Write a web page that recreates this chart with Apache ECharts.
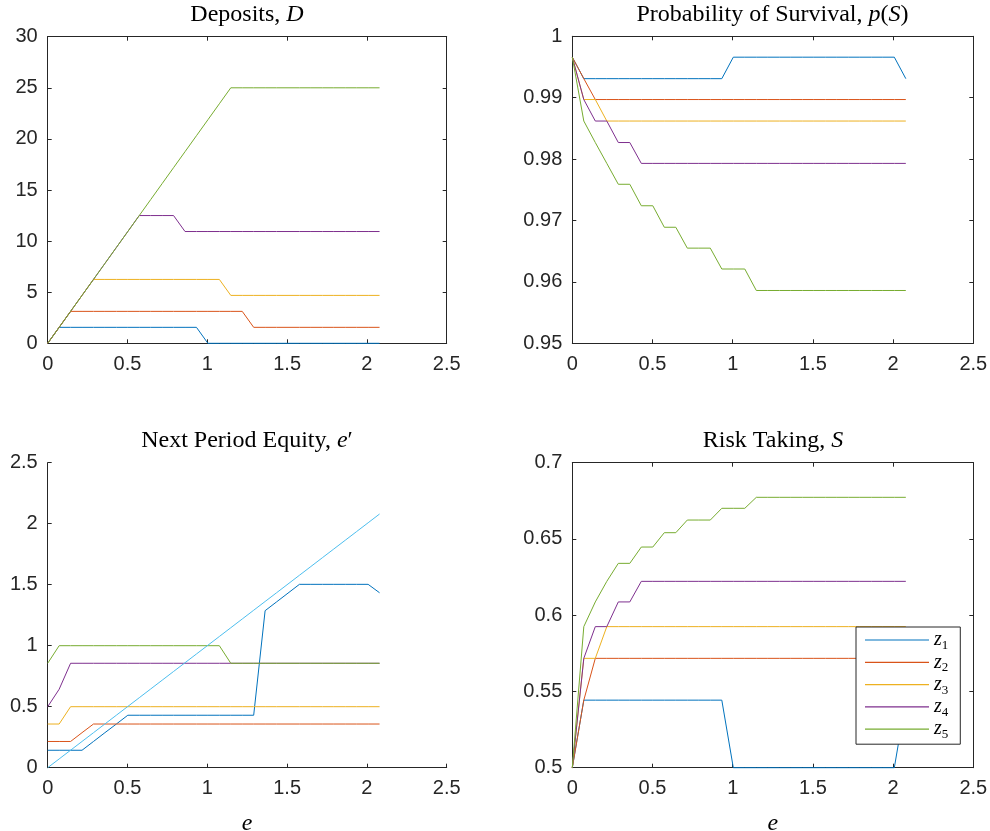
<!DOCTYPE html>
<html><head><meta charset="utf-8">
<script src="https://cdn.jsdelivr.net/npm/echarts@6/dist/echarts.min.js"></script>
<style>html,body{margin:0;padding:0;background:#fff}#c{width:990px;height:831px}</style>
</head><body><div id="c"></div><script>
// ---- data ----
const eGrid = [0, 0.0717, 0.1434, 0.2151, 0.2868, 0.3585, 0.4302, 0.5019, 0.5736, 0.6453,
  0.717, 0.7887, 0.8604, 0.9321, 1.0038, 1.0755, 1.1472, 1.2189, 1.2906, 1.3623,
  1.434, 1.5057, 1.5774, 1.6491, 1.7208, 1.7925, 1.8642, 1.9359, 2.0076, 2.0793];
const seriesNames = ['z1', 'z2', 'z3', 'z4', 'z5'];
const xTicks = [0, 0.5, 1, 1.5, 2, 2.5];

// Deposits, D
const depositTicks = [0, 5, 10, 15, 20, 25, 30];
const depZ1 = [0, 1.5625, 1.5625, 1.5625, 1.5625, 1.5625, 1.5625, 1.5625, 1.5625, 1.5625, 1.5625, 1.5625, 1.5625, 1.5625, 0, 0, 0, 0, 0, 0, 0, 0, 0, 0, 0, 0, 0, 0, 0, 0];
const depZ2 = [0, 1.5625, 3.125, 3.125, 3.125, 3.125, 3.125, 3.125, 3.125, 3.125, 3.125, 3.125, 3.125, 3.125, 3.125, 3.125, 3.125, 3.125, 1.5625, 1.5625, 1.5625, 1.5625, 1.5625, 1.5625, 1.5625, 1.5625, 1.5625, 1.5625, 1.5625, 1.5625];
const depZ3 = [0, 1.5625, 3.125, 4.6875, 6.25, 6.25, 6.25, 6.25, 6.25, 6.25, 6.25, 6.25, 6.25, 6.25, 6.25, 6.25, 4.6875, 4.6875, 4.6875, 4.6875, 4.6875, 4.6875, 4.6875, 4.6875, 4.6875, 4.6875, 4.6875, 4.6875, 4.6875, 4.6875];
const depZ4 = [0, 1.5625, 3.125, 4.6875, 6.25, 7.8125, 9.375, 10.9375, 12.5, 12.5, 12.5, 12.5, 10.9375, 10.9375, 10.9375, 10.9375, 10.9375, 10.9375, 10.9375, 10.9375, 10.9375, 10.9375, 10.9375, 10.9375, 10.9375, 10.9375, 10.9375, 10.9375, 10.9375, 10.9375];
const depZ5 = [0, 1.5625, 3.125, 4.6875, 6.25, 7.8125, 9.375, 10.9375, 12.5, 14.0625, 15.625, 17.1875, 18.75, 20.3125, 21.875, 23.4375, 25, 25, 25, 25, 25, 25, 25, 25, 25, 25, 25, 25, 25, 25];

// Probability of Survival, p(S)
const survTicks = [0.95, 0.96, 0.97, 0.98, 0.99, 1];
const survZ1 = [0.9966, 0.9931, 0.9931, 0.9931, 0.9931, 0.9931, 0.9931, 0.9931, 0.9931, 0.9931, 0.9931, 0.9931, 0.9931, 0.9931, 0.9966, 0.9966, 0.9966, 0.9966, 0.9966, 0.9966, 0.9966, 0.9966, 0.9966, 0.9966, 0.9966, 0.9966, 0.9966, 0.9966, 0.9966, 0.9931];
const survZ2 = [0.9966, 0.9931, 0.9897, 0.9897, 0.9897, 0.9897, 0.9897, 0.9897, 0.9897, 0.9897, 0.9897, 0.9897, 0.9897, 0.9897, 0.9897, 0.9897, 0.9897, 0.9897, 0.9897, 0.9897, 0.9897, 0.9897, 0.9897, 0.9897, 0.9897, 0.9897, 0.9897, 0.9897, 0.9897, 0.9897];
const survZ3 = [0.9966, 0.9897, 0.9897, 0.9862, 0.9862, 0.9862, 0.9862, 0.9862, 0.9862, 0.9862, 0.9862, 0.9862, 0.9862, 0.9862, 0.9862, 0.9862, 0.9862, 0.9862, 0.9862, 0.9862, 0.9862, 0.9862, 0.9862, 0.9862, 0.9862, 0.9862, 0.9862, 0.9862, 0.9862, 0.9862];
const survZ4 = [0.9966, 0.9897, 0.9862, 0.9862, 0.9827, 0.9827, 0.9793, 0.9793, 0.9793, 0.9793, 0.9793, 0.9793, 0.9793, 0.9793, 0.9793, 0.9793, 0.9793, 0.9793, 0.9793, 0.9793, 0.9793, 0.9793, 0.9793, 0.9793, 0.9793, 0.9793, 0.9793, 0.9793, 0.9793, 0.9793];
const survZ5 = [0.9966, 0.9862, 0.9827, 0.9793, 0.9759, 0.9759, 0.9724, 0.9724, 0.9689, 0.9689, 0.9655, 0.9655, 0.9655, 0.9621, 0.9621, 0.9621, 0.9586, 0.9586, 0.9586, 0.9586, 0.9586, 0.9586, 0.9586, 0.9586, 0.9586, 0.9586, 0.9586, 0.9586, 0.9586, 0.9586];

// Next Period Equity, e'
const equityTicks = [0, 0.5, 1, 1.5, 2, 2.5];
const eqZ1 = [0.143, 0.143, 0.143, 0.143, 0.215, 0.287, 0.358, 0.43, 0.43, 0.43, 0.43, 0.43, 0.43, 0.43, 0.43, 0.43, 0.43, 0.43, 0.43, 1.287, 1.359, 1.431, 1.503, 1.503, 1.503, 1.503, 1.503, 1.503, 1.503, 1.434];
const eqZ2 = [0.215, 0.215, 0.215, 0.287, 0.358, 0.358, 0.358, 0.358, 0.358, 0.358, 0.358, 0.358, 0.358, 0.358, 0.358, 0.358, 0.358, 0.358, 0.358, 0.358, 0.358, 0.358, 0.358, 0.358, 0.358, 0.358, 0.358, 0.358, 0.358, 0.358];
const eqZ3 = [0.358, 0.358, 0.5, 0.5, 0.5, 0.5, 0.5, 0.5, 0.5, 0.5, 0.5, 0.5, 0.5, 0.5, 0.5, 0.5, 0.5, 0.5, 0.5, 0.5, 0.5, 0.5, 0.5, 0.5, 0.5, 0.5, 0.5, 0.5, 0.5, 0.5];
const eqZ4 = [0.5, 0.643, 0.856, 0.856, 0.856, 0.856, 0.856, 0.856, 0.856, 0.856, 0.856, 0.856, 0.856, 0.856, 0.856, 0.856, 0.856, 0.856, 0.856, 0.856, 0.856, 0.856, 0.856, 0.856, 0.856, 0.856, 0.856, 0.856, 0.856, 0.856];
const eqZ5 = [0.856, 1, 1, 1, 1, 1, 1, 1, 1, 1, 1, 1, 1, 1, 1, 1, 0.856, 0.856, 0.856, 0.856, 0.856, 0.856, 0.856, 0.856, 0.856, 0.856, 0.856, 0.856, 0.856, 0.856];
const eq45 = [0, 0.0717, 0.1434, 0.2151, 0.2868, 0.3585, 0.4302, 0.5019, 0.5736, 0.6453,
  0.717, 0.7887, 0.8604, 0.9321, 1.0038, 1.0755, 1.1472, 1.2189, 1.2906, 1.3623,
  1.434, 1.5057, 1.5774, 1.6491, 1.7208, 1.7925, 1.8642, 1.9359, 2.0076, 2.0793];

// Risk Taking, S
const riskTicks = [0.5, 0.55, 0.6, 0.65, 0.7];
const riskZ1 = [0.5, 0.5443, 0.5443, 0.5443, 0.5443, 0.5443, 0.5443, 0.5443, 0.5443, 0.5443, 0.5443, 0.5443, 0.5443, 0.5443, 0.5, 0.5, 0.5, 0.5, 0.5, 0.5, 0.5, 0.5, 0.5, 0.5, 0.5, 0.5, 0.5, 0.5, 0.5, 0.5443];
const riskZ2 = [0.5, 0.5443, 0.5717, 0.5717, 0.5717, 0.5717, 0.5717, 0.5717, 0.5717, 0.5717, 0.5717, 0.5717, 0.5717, 0.5717, 0.5717, 0.5717, 0.5717, 0.5717, 0.5717, 0.5717, 0.5717, 0.5717, 0.5717, 0.5717, 0.5717, 0.5717, 0.5717, 0.5717, 0.5717, 0.5717];
const riskZ3 = [0.5, 0.5717, 0.5717, 0.5925, 0.5925, 0.5925, 0.5925, 0.5925, 0.5925, 0.5925, 0.5925, 0.5925, 0.5925, 0.5925, 0.5925, 0.5925, 0.5925, 0.5925, 0.5925, 0.5925, 0.5925, 0.5925, 0.5925, 0.5925, 0.5925, 0.5925, 0.5925, 0.5925, 0.5925, 0.5925];
const riskZ4 = [0.5, 0.5717, 0.5925, 0.5925, 0.6087, 0.6087, 0.6222, 0.6222, 0.6222, 0.6222, 0.6222, 0.6222, 0.6222, 0.6222, 0.6222, 0.6222, 0.6222, 0.6222, 0.6222, 0.6222, 0.6222, 0.6222, 0.6222, 0.6222, 0.6222, 0.6222, 0.6222, 0.6222, 0.6222, 0.6222];
const riskZ5 = [0.5, 0.5925, 0.6087, 0.6222, 0.634, 0.634, 0.6447, 0.6447, 0.6541, 0.6541, 0.6624, 0.6624, 0.6624, 0.6701, 0.6701, 0.6701, 0.6773, 0.6773, 0.6773, 0.6773, 0.6773, 0.6773, 0.6773, 0.6773, 0.6773, 0.6773, 0.6773, 0.6773, 0.6773, 0.6773];

// ---- styling / layout ----
const colors = ['#0072BD', '#D95319', '#EDB120', '#7E2F8E', '#77AC30'];
const lineColor45 = '#4DBEEE';
const axisColor = '#262626';
const serif = 'Liberation Serif';
const sans = 'Liberation Sans';
const richT = {
  n: { fontFamily: serif, fontSize: 24, color: '#000' },
  i: { fontFamily: serif, fontSize: 24, fontStyle: 'italic', color: '#000' }
};

const panels = [
  { title: '{n|Deposits, }{i|D}', tx: 247, ty: 14.5, grid: { left: 47.7, top: 36.7, width: 399, height: 306.6 }, yTicks: depositTicks, ys: [depZ1, depZ2, depZ3, depZ4, depZ5], box: true },
  { title: '{n|Probability of Survival, }{i|p}{n|(}{i|S}{n|)}', tx: 772.5, ty: 14.5, grid: { left: 572.3, top: 36.3, width: 401, height: 307 }, yTicks: survTicks, ys: [survZ1, survZ2, survZ3, survZ4, survZ5], box: true },
  { title: '{n|Next Period Equity, }{i|e}{n|′}', tx: 247, ty: 441, grid: { left: 47.7, top: 462.7, width: 399, height: 305 }, yTicks: equityTicks, ys: [eqZ1, eqZ2, eqZ3, eqZ4, eqZ5], box: false, extra: eq45, xname: true },
  { title: '{n|Risk Taking, }{i|S}', tx: 773, ty: 441, grid: { left: 572.3, top: 462.7, width: 401, height: 305 }, yTicks: riskTicks, ys: [riskZ1, riskZ2, riskZ3, riskZ4, riskZ5], box: true, xname: true }
];

const fmt = v => String(+v.toFixed(3));
const grids = [], xAxes = [], yAxes = [], series = [], graphics = [];
panels.forEach((p, k) => {
  grids.push(Object.assign({ containLabel: false, outerBoundsMode: 'none' }, p.grid));
  const lineS = { color: axisColor, width: 1 };
  const tick = { show: true, inside: true, length: 4, lineStyle: { color: axisColor, width: 1 } };
  const xBase = { type: 'value', gridIndex: k, min: xTicks[0], max: xTicks[xTicks.length - 1], interval: xTicks[1] - xTicks[0], splitLine: { show: false } };
  xAxes.push(Object.assign({}, xBase, {
    position: 'bottom',
    axisLine: { show: true, onZero: false, lineStyle: lineS },
    axisTick: tick,
    axisLabel: { show: true, fontSize: 20, fontFamily: sans, color: axisColor, margin: 11, formatter: fmt },
    name: p.xname ? '{i|e}' : '', nameLocation: 'middle', nameGap: 44,
    nameTextStyle: { rich: { i: { fontFamily: serif, fontSize: 24, fontStyle: 'italic', color: '#000' } } }
  }));
  xAxes.push(Object.assign({}, xBase, {
    position: 'top', show: p.box,
    axisLine: { show: true, onZero: false, lineStyle: lineS },
    axisTick: tick, axisLabel: { show: false }
  }));
  const yt = p.yTicks;
  const yBase = { type: 'value', gridIndex: k, min: yt[0], max: yt[yt.length - 1], interval: +(yt[1] - yt[0]).toFixed(4), splitLine: { show: false } };
  yAxes.push(Object.assign({}, yBase, {
    position: 'left',
    axisLine: { show: true, onZero: false, lineStyle: lineS },
    axisTick: tick,
    axisLabel: { show: true, fontSize: 20, fontFamily: sans, color: axisColor, margin: 10, formatter: fmt }
  }));
  yAxes.push(Object.assign({}, yBase, {
    position: 'right', show: p.box,
    axisLine: { show: true, onZero: false, lineStyle: lineS },
    axisTick: tick, axisLabel: { show: false }
  }));
  p.ys.forEach((ys, j) => {
    series.push({
      type: 'line', name: seriesNames[j], xAxisIndex: k * 2, yAxisIndex: k * 2,
      data: eGrid.map((x, i) => [x, ys[i]]), symbol: 'none', showSymbol: false,
      lineStyle: { color: colors[j], width: 1 }, itemStyle: { color: colors[j] },
      clip: false, z: 5, silent: true, animation: false
    });
  });
  if (p.extra) {
    series.push({
      type: 'line', name: '45', xAxisIndex: k * 2, yAxisIndex: k * 2,
      data: eGrid.map((x, i) => [x, p.extra[i]]), symbol: 'none', showSymbol: false,
      lineStyle: { color: lineColor45, width: 1 }, itemStyle: { color: lineColor45 },
      clip: false, z: 5, silent: true, animation: false
    });
  }
  graphics.push({
    type: 'text', x: p.tx, y: p.ty,
    style: { text: p.title, rich: richT, align: 'center', verticalAlign: 'middle', textAlign: 'center', textVerticalAlign: 'middle' }
  });
});

const chart = echarts.init(document.getElementById('c'), null, { renderer: 'canvas' });
chart.setOption({
  backgroundColor: '#fff',
  animation: false,
  grid: grids, xAxis: xAxes, yAxis: yAxes, series: series,
  graphic: graphics,
  legend: {
    data: seriesNames, orient: 'vertical', left: 856, top: 627, z: 10,
    padding: [3, 12, 3, 9], itemWidth: 64, itemHeight: 1.2, itemGap: 0.3,
    icon: 'rect',
    borderColor: axisColor, borderWidth: 1, backgroundColor: '#fff',
    selectedMode: false,
    formatter: name => '{i|z}{s|' + name.slice(1) + '}',
    textStyle: {
      rich: {
        i: { fontFamily: serif, fontSize: 20, fontStyle: 'italic', color: '#000', lineHeight: 24, verticalAlign: 'middle' },
        s: { fontFamily: serif, fontSize: 13, color: '#000', lineHeight: 13, verticalAlign: 'bottom' }
      }
    }
  }
});
</script></body></html>
